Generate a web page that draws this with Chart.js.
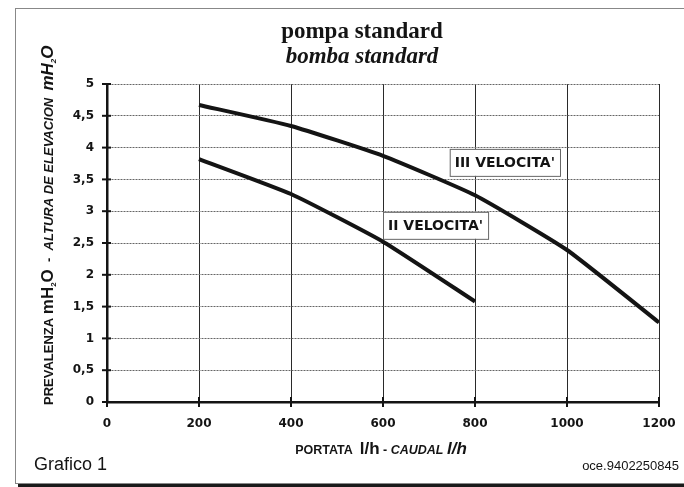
<!DOCTYPE html>
<html>
<head>
<meta charset="utf-8">
<script src="https://cdn.jsdelivr.net/npm/chart.js@4.4.0/dist/chart.umd.min.js"></script>
<style>
  html, body { margin: 0; padding: 0; background: #fff; overflow: hidden; }
  #wrap { position: relative; width: 684px; height: 487px; overflow: hidden; }
  #frame { position: absolute; left: 15px; top: 8px; width: 700px; height: 474px; border: 1px solid #888; box-shadow: 3px 3px 0 #1a1a1a; }
  canvas { position: absolute; left: 0; top: 0; }
</style>
</head>
<body>
<div id="wrap">
  <div id="frame"></div>
  <canvas id="myChart" width="684" height="487"></canvas>
</div>
<script>
// dati (portata l/h, prevalenza mH2O)
const portata = [200, 400, 600, 800, 1000, 1200]
const terzaVelocita = [4.67, 4.34, 3.87, 3.25, 2.39, 1.25]
const secondaVelocita = [3.82, 3.27, 2.52, 1.58]
const xTicks = [0, 200, 400, 600, 800, 1000, 1200]
const yTicks = [0, 0.5, 1, 1.5, 2, 2.5, 3, 3.5, 4, 4.5, 5]

// etichette delle curve (angolo in alto a sinistra, in unita' del grafico)
const etichetteCurve = [
  { testo: "III VELOCITA'", x: 745, y: 3.98 },
  { testo: "II VELOCITA'", x: 600, y: 2.99 }
]

const nero = "#141414"

// tacche che attraversano gli assi + etichette curve + titoli assi
const extraPlugin = {
  id: "extra",
  afterDatasetsDraw(chart) {
    const ctx = chart.ctx
    const xs = chart.scales.x
    const ys = chart.scales.y
    ctx.save()
    ctx.strokeStyle = nero
    ctx.lineWidth = 2
    yTicks.forEach(v => {
      const py = ys.getPixelForValue(v)
      ctx.beginPath()
      ctx.moveTo(xs.left - 5, py)
      ctx.lineTo(xs.left + 4, py)
      ctx.stroke()
    })
    xTicks.forEach(v => {
      const px = xs.getPixelForValue(v)
      ctx.beginPath()
      ctx.moveTo(px, ys.bottom - 5)
      ctx.lineTo(px, ys.bottom + 5)
      ctx.stroke()
    })

    ctx.font = 'bold 14px "DejaVu Sans"'
    ctx.textBaseline = "middle"
    ctx.textAlign = "left"
    etichetteCurve.forEach(e => {
      const px = xs.getPixelForValue(e.x)
      const py = ys.getPixelForValue(e.y)
      const w = ctx.measureText(e.testo).width + 10
      const h = 27
      ctx.fillStyle = "#fff"
      ctx.fillRect(px, py, w, h)
      ctx.lineWidth = 1
      ctx.strokeStyle = "#666"
      ctx.strokeRect(px + 0.5, py + 0.5, w, h)
      ctx.fillStyle = nero
      ctx.fillText(e.testo, px + 5, py + h / 2 + 1)
    })
    ctx.restore()
  },
  afterDraw(chart) {
    const ctx = chart.ctx
    const disegnaPezzi = (pezzi, x, y) => {
      ctx.textAlign = "left"
      ctx.textBaseline = "alphabetic"
      pezzi.forEach(p => {
        ctx.font = p[1]
        ctx.fillText(p[0], x, y + (p[2] || 0))
        x += ctx.measureText(p[0]).width
      })
      return x
    }
    const misura = pezzi => pezzi.reduce((s, p) => { ctx.font = p[1]; return s + ctx.measureText(p[0]).width }, 0)

    ctx.save()
    ctx.fillStyle = nero
    // titolo asse x
    const titoloX = [
      ["PORTATA  ", 'bold 12.5px "Liberation Sans"'],
      ["l/h", 'bold 17px "Liberation Sans"'],
      [" - ", 'bold 12.5px "Liberation Sans"'],
      ["CAUDAL ", 'italic bold 12.5px "Liberation Sans"'],
      ["l/h", 'italic bold 17px "Liberation Sans"']
    ]
    disegnaPezzi(titoloX, 381 - misura(titoloX) / 2, 454)

    // titolo asse y (ruotato)
    const titoloY = [
      ["PREVALENZA ", 'bold 13px "Liberation Sans"'],
      ["mH", 'bold 17px "Liberation Sans"'],
      ["2", 'bold 8px "Liberation Sans"', 3],
      ["O", 'bold 17px "Liberation Sans"'],
      ["  -  ", 'bold 13px "Liberation Sans"'],
      ["ALTURA DE ELEVACION  ", 'italic bold 13px "Liberation Sans"'],
      ["mH", 'italic bold 17px "Liberation Sans"'],
      ["2", 'italic bold 8px "Liberation Sans"', 3],
      ["O", 'italic bold 17px "Liberation Sans"']
    ]
    ctx.translate(53, 405)
    ctx.rotate(-Math.PI / 2)
    disegnaPezzi(titoloY, 0, 0)
    ctx.setTransform(1, 0, 0, 1, 0, 0)

    // piede
    ctx.font = '18px "Liberation Sans"'
    ctx.textAlign = "left"
    ctx.fillText("Grafico 1", 34, 470)
    ctx.font = '13px "Liberation Sans"'
    ctx.textAlign = "right"
    ctx.fillText("oce.9402250845", 679, 470)
    ctx.restore()
  }
}

const grafico = new Chart("myChart", {
  type: "line",
  data: {
    datasets: [{
        label: "III VELOCITA'",
        data: portata.map((x, i) => ({ x: x, y: terzaVelocita[i] })),
        borderColor: nero,
        borderWidth: 4,
        pointRadius: 0,
        tension: 0.15
      }, {
        label: "II VELOCITA'",
        data: secondaVelocita.map((y, i) => ({ x: portata[i], y: y })),
        borderColor: nero,
        borderWidth: 4,
        pointRadius: 0,
        tension: 0.15
      }
    ]
  },
  plugins: [extraPlugin],
  options: {
    responsive: false,
    animation: false,
    devicePixelRatio: 1,
    layout: { padding: { left: 65, right: 25, top: 0, bottom: 0 } },
    plugins: {
      legend: { display: false },
      tooltip: { enabled: false },
      title: {
        display: true,
        text: "pompa standard",
        color: nero,
        font: { family: "Liberation Serif", size: 23, weight: "bold", lineHeight: 1 },
        padding: { top: 21, bottom: 2 }
      },
      subtitle: {
        display: true,
        text: "bomba standard",
        color: nero,
        font: { family: "Liberation Serif", size: 23, weight: "bold", style: "italic", lineHeight: 1 },
        padding: { top: 0, bottom: 15 }
      }
    },
    scales: {
      x: {
        type: "linear",
        min: 0,
        max: 1200,
        afterFit: s => { s.height = 85; s.paddingRight = 0 },
        afterBuildTicks: s => { s.ticks = xTicks.map(v => ({ value: v })) },
        ticks: {
          color: nero,
          padding: 15,
          font: { family: "DejaVu Sans", size: 12, weight: "bold" },
          callback: v => String(v)
        },
        grid: { color: "#2a2a2a", lineWidth: 1, drawTicks: false },
        border: { display: true, color: nero, width: 2.5 }
      },
      y: {
        min: 0,
        max: 5,
        afterFit: s => { s.width = 42 },
        afterBuildTicks: s => { s.ticks = yTicks.map(v => ({ value: v })) },
        ticks: {
          color: nero,
          padding: 13,
          font: { family: "DejaVu Sans", size: 12, weight: "bold" },
          callback: v => String(v).replace(".", ",")
        },
        grid: { color: "#666", lineWidth: 1, drawTicks: false },
        border: { display: true, color: nero, width: 2.5, dash: [2, 1] }
      }
    }
  }
})
</script>
</body>
</html>
